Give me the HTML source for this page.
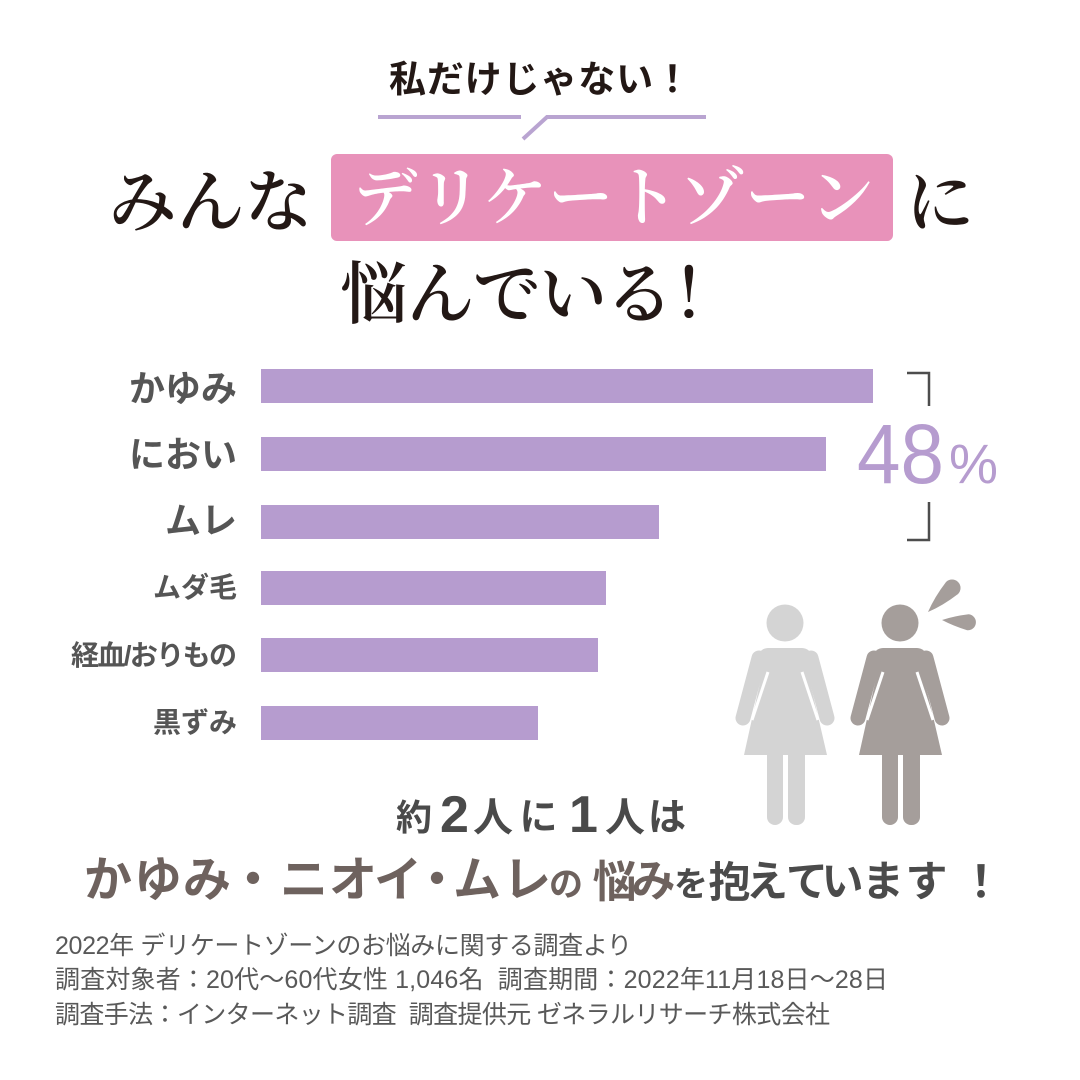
<!DOCTYPE html>
<html>
<head>
<meta charset="utf-8">
<style>
html,body{margin:0;padding:0;background:#fff;}
svg{display:block;}
.sans{font-family:"Liberation Sans","Noto Sans CJK JP",sans-serif;}
.serif{font-family:"Liberation Serif","Noto Serif CJK SC",serif;}
</style>
</head>
<body>
<svg xmlns="http://www.w3.org/2000/svg" width="1080" height="1080" viewBox="0 0 1080 1080">
<rect width="1080" height="1080" fill="#ffffff"/>

<!-- header hand text -->
<text class="sans" x="540" y="92" text-anchor="middle" font-weight="700" font-size="37" fill="#231815" textLength="302" lengthAdjust="spacing">私だけじゃない！</text>

<!-- decorative line -->
<g stroke="#b9a4d1" stroke-width="4" fill="none">
  <line x1="378" y1="117" x2="521" y2="117"/>
  <polyline points="523,139 547,117 706,117"/>
</g>

<!-- pink box -->
<rect x="331" y="154" width="562" height="87" rx="6" fill="#e892ba"/>

<!-- title -->
<text class="serif" x="210.5" y="226" text-anchor="middle" font-weight="600" font-size="68" fill="#231815">みんな</text>
<text class="serif" x="613.5" y="220" text-anchor="middle" font-weight="600" font-size="65" fill="#ffffff" textLength="522" lengthAdjust="spacing">デリケートゾーン</text>
<text class="serif" x="940" y="226" text-anchor="middle" font-weight="600" font-size="68" fill="#231815">に</text>
<text class="serif" x="540" y="318" text-anchor="middle" font-weight="600" font-size="68" fill="#231815" textLength="400" lengthAdjust="spacing">悩んでいる！</text>

<!-- bars -->
<g fill="#b69ccf">
  <rect x="261" y="369" width="612" height="34"/>
  <rect x="261" y="437" width="565" height="34"/>
  <rect x="261" y="505" width="398" height="34"/>
  <rect x="261" y="571" width="345" height="34"/>
  <rect x="261" y="638" width="337" height="34"/>
  <rect x="261" y="706" width="277" height="34"/>
</g>

<!-- labels -->
<g class="sans" font-weight="700" fill="#555555" text-anchor="end">
  <text x="237" y="401" font-size="36">かゆみ</text>
  <text x="237" y="467" font-size="36">におい</text>
  <text x="237" y="533" font-size="36">ムレ</text>
  <text x="237" y="597" font-size="28">ムダ毛</text>
  <text x="237" y="665" font-size="28" textLength="166" lengthAdjust="spacing">経血/おりもの</text>
  <text x="237" y="732" font-size="28">黒ずみ</text>
</g>

<!-- brackets -->
<g stroke="#4d4d4d" stroke-width="2.5" fill="none">
  <polyline points="907,373 929,373 929,406"/>
  <polyline points="929,502 929,540 907,540"/>
</g>

<!-- 48% -->
<text x="857" y="483" font-family="'Liberation Sans',sans-serif" font-size="84" fill="#b69ccf" textLength="87" lengthAdjust="spacingAndGlyphs">48</text>
<text x="949" y="483" font-family="'Liberation Sans',sans-serif" font-size="56" fill="#b69ccf" textLength="49" lengthAdjust="spacingAndGlyphs">%</text>

<!-- left figure -->
<g fill="#d4d4d4">
  <circle cx="785" cy="623" r="18.5"/>
  <rect x="758" y="648" width="54" height="32" rx="10"/>
  <rect x="767" y="745" width="16" height="80" rx="8"/>
  <rect x="788" y="745" width="17" height="80" rx="8"/>
  <polygon points="765,660 805,660 827,755 744,755"/>
</g>
<g stroke="#d4d4d4" stroke-width="15" stroke-linecap="round">
  <line x1="759" y1="658" x2="743" y2="718"/>
  <line x1="811" y1="658" x2="827" y2="718"/>
</g>
<g stroke="#ffffff" stroke-width="3">
  <line x1="768" y1="672" x2="752" y2="720"/>
  <line x1="802" y1="672" x2="818" y2="720"/>
</g>

<!-- right figure -->
<g transform="translate(115,0)">
  <g fill="#a59e9b">
    <circle cx="785" cy="623" r="18.5"/>
    <rect x="758" y="648" width="54" height="32" rx="10"/>
    <rect x="767" y="745" width="16" height="80" rx="8"/>
    <rect x="788" y="745" width="17" height="80" rx="8"/>
    <polygon points="765,660 805,660 827,755 744,755"/>
  </g>
  <g stroke="#a59e9b" stroke-width="15" stroke-linecap="round">
    <line x1="759" y1="658" x2="743" y2="718"/>
    <line x1="811" y1="658" x2="827" y2="718"/>
  </g>
  <g stroke="#ffffff" stroke-width="3">
    <line x1="768" y1="672" x2="752" y2="720"/>
    <line x1="802" y1="672" x2="818" y2="720"/>
  </g>
</g>

<!-- sweat drops -->
<g fill="#a59e9b">
  <path transform="translate(928,612) rotate(-45)" d="M0,0 Q15,-6 34,-8.5 A8.5 8.5 0 0 1 34,8.5 Q15,6 0,0 Z"/>
  <path transform="translate(942,620) rotate(5)" d="M0,0 Q12,-5 26,-8 A8 8 0 0 1 26,8 Q12,5 0,0 Z"/>
</g>

<!-- summary line 1 -->
<g class="sans" font-weight="700" fill="#4a4a4a" text-anchor="middle">
  <text x="414" y="830" font-size="36">約</text>
  <text x="454.5" y="832" font-size="52" font-family="'Liberation Sans',sans-serif">2</text>
  <text x="493" y="831" font-size="40">人</text>
  <text x="538.5" y="830" font-size="38">に</text>
  <text x="583.5" y="832" font-size="52" font-family="'Liberation Sans',sans-serif">1</text>
  <text x="625" y="831" font-size="40">人</text>
  <text x="667" y="830" font-size="38">は</text>
</g>

<!-- summary line 2 -->
<g class="sans" font-weight="700" text-anchor="middle">
  <g fill="#6e625e" font-size="48">
    <text x="108" y="896">か</text>
    <text x="158" y="896">ゆ</text>
    <text x="207" y="896">み</text>
    <text x="253" y="896">・</text>
    <text x="304" y="896">ニ</text>
    <text x="353" y="896">オ</text>
    <text x="398" y="896">イ</text>
    <text x="437" y="896">・</text>
    <text x="477" y="896">ム</text>
    <text x="527" y="896">レ</text>
  </g>
  <g fill="#6e625e">
    <text x="566" y="896" font-size="34">の</text>
    <text x="614.5" y="897" font-size="44">悩</text>
    <text x="653.5" y="896" font-size="44">み</text>
  </g>
  <g fill="#4b4b4b">
    <text x="691" y="896" font-size="34">を</text>
    <text x="729.5" y="897" font-size="42">抱</text>
    <text x="767" y="896" font-size="42">え</text>
    <text x="807" y="896" font-size="42">て</text>
    <text x="842.5" y="896" font-size="42">い</text>
    <text x="883" y="896" font-size="42">ま</text>
    <text x="926.5" y="896" font-size="42">す</text>
    <text x="981" y="897" font-size="44">！</text>
  </g>
</g>

<!-- footnote -->
<g class="sans" font-size="25" fill="#595959" style="white-space:pre">
  <text x="55" y="954" textLength="577" lengthAdjust="spacing" xml:space="preserve">2022年 デリケートゾーンのお悩みに関する調査より</text>
  <text x="55" y="988" textLength="833" lengthAdjust="spacing" xml:space="preserve">調査対象者：20代〜60代女性 1,046名  調査期間：2022年11月18日〜28日</text>
  <text x="55" y="1023" textLength="775" lengthAdjust="spacing" xml:space="preserve">調査手法：インターネット調査  調査提供元 ゼネラルリサーチ株式会社</text>
</g>
</svg>
</body>
</html>
